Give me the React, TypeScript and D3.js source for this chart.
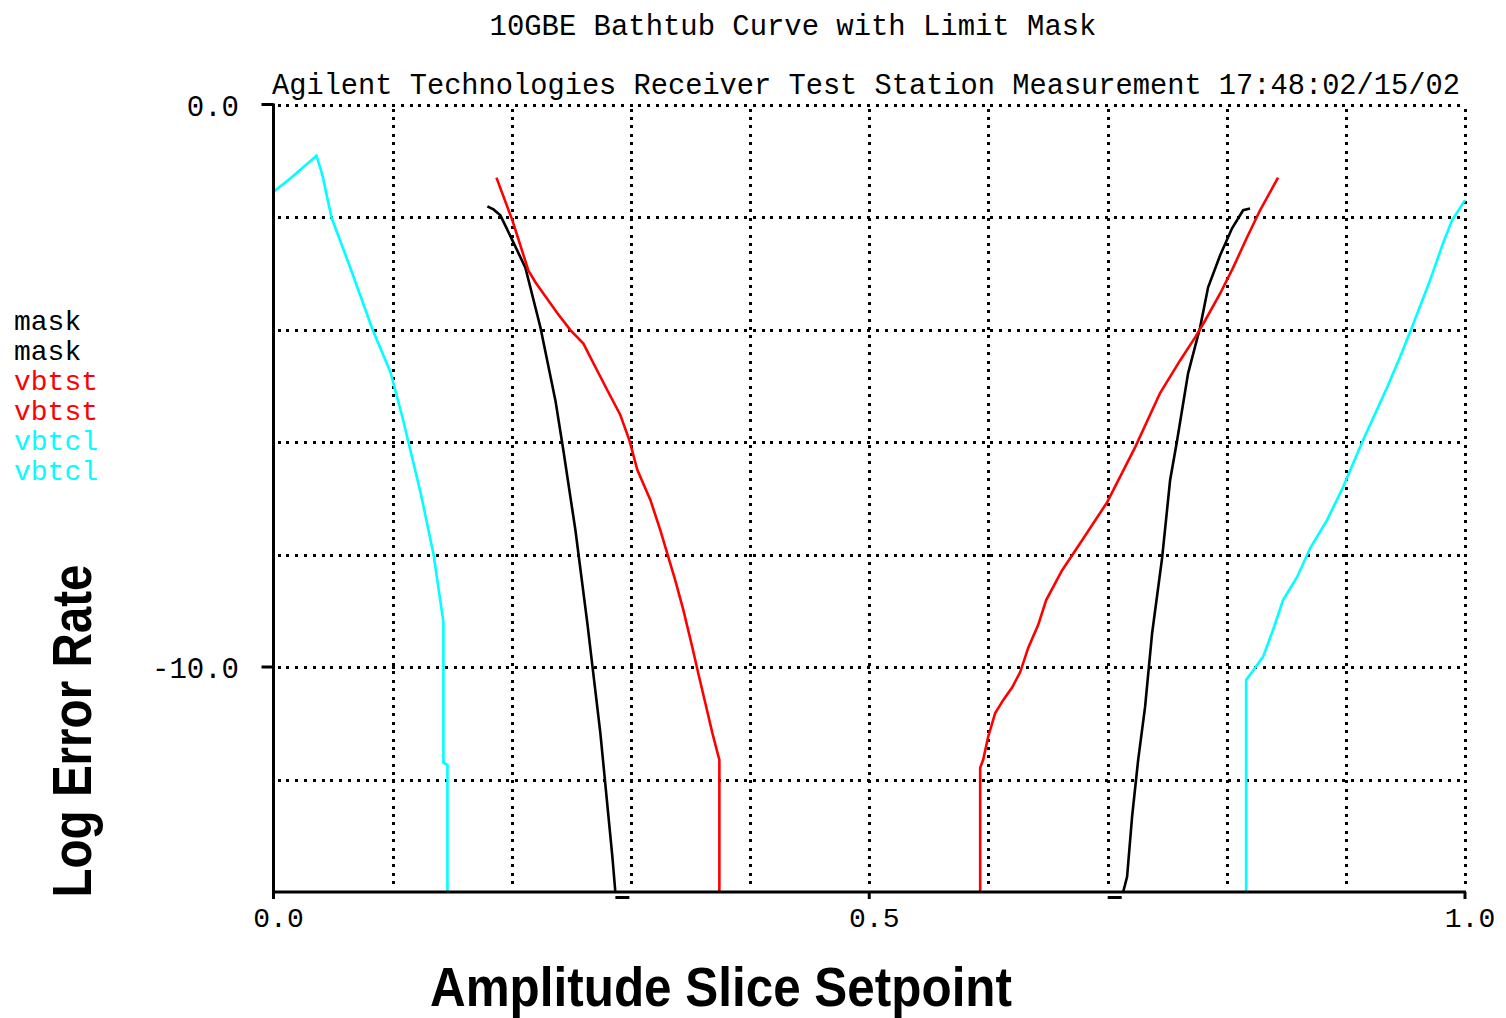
import React from "react";
import * as d3 from "d3";

// ---- data (x = amplitude slice setpoint, y = log error rate) ----
const maskLeft: [number, number][] = [
  [0.1795, -1.81], [0.1846, -1.865], [0.1904, -1.97], [0.2013, -2.45], [0.2114, -2.9],
  [0.224, -3.96], [0.2366, -5.26], [0.2433, -6.15], [0.2534, -7.57], [0.2634, -9.22],
  [0.2743, -11.17], [0.2844, -13.37], [0.2869, -14.0],
];
const maskRight: [number, number][] = [
  [0.7131, -14.0], [0.7164, -13.73], [0.7206, -12.66], [0.7257, -11.65], [0.7315, -10.71],
  [0.7374, -9.4], [0.7458, -8.06], [0.7525, -6.68], [0.7584, -5.97], [0.7676, -4.78],
  [0.7777, -3.96], [0.7844, -3.25], [0.7945, -2.68], [0.8045, -2.2], [0.8138, -1.88],
  [0.8196, -1.85],
];
const vbtstLeft: [number, number][] = [
  [0.1871, -1.3], [0.2005, -2.06], [0.2139, -2.95], [0.2198, -3.16], [0.2265, -3.36],
  [0.2383, -3.71], [0.2492, -4.01], [0.2601, -4.25], [0.2685, -4.6], [0.2802, -5.08],
  [0.2911, -5.52], [0.2987, -5.97], [0.3054, -6.5], [0.3163, -7.03], [0.3247, -7.57],
  [0.3372, -8.46], [0.344, -8.99], [0.3515, -9.65], [0.3565, -10.11], [0.3624, -10.64],
  [0.3683, -11.17], [0.3742, -11.65], [0.3742, -14.0],
];
const vbtstRight: [number, number][] = [
  [0.5931, -14.0], [0.5931, -11.79], [0.5956, -11.65], [0.5998, -11.24], [0.6057, -10.82],
  [0.6124, -10.59], [0.62, -10.36], [0.6267, -10.09], [0.6334, -9.66], [0.6418, -9.25],
  [0.6485, -8.81], [0.6619, -8.28], [0.677, -7.8], [0.6997, -7.07], [0.7232, -6.09],
  [0.7441, -5.13], [0.7609, -4.55], [0.7735, -4.14], [0.7819, -3.84], [0.7945, -3.36],
  [0.8054, -2.9], [0.8171, -2.36], [0.828, -1.88], [0.8431, -1.3],
];
const vbtclLeft: [number, number][] = [
  [0.0, -1.55], [0.0143, -1.31], [0.0361, -0.91], [0.0411, -1.26], [0.0487, -2.01],
  [0.0646, -2.91], [0.0831, -4.0], [0.0982, -4.76], [0.1082, -5.56], [0.1233, -6.89],
  [0.1342, -7.98], [0.1426, -9.2], [0.1426, -11.7], [0.146, -11.74], [0.146, -14.0],
];
const vbtclRight: [number, number][] = [
  [0.8163, -14.0], [0.8163, -10.23], [0.8213, -10.09], [0.8305, -9.82], [0.8389, -9.34],
  [0.8473, -8.81], [0.8591, -8.4], [0.87, -7.89], [0.8842, -7.39], [0.8977, -6.8],
  [0.9144, -5.97], [0.9346, -5.03], [0.9455, -4.49], [0.9555, -3.96], [0.9706, -3.13],
  [0.9815, -2.47], [0.9891, -2.06], [1.0, -1.7],
];

const xTickValues = [0, 0.5, 1.0];
const xTickLabels = ["0.0", "0.5", "1.0"];
const yTickValues = [0, -10];
const yTickLabels = ["0.0", "-10.0"];
const xGridValues = [0.1, 0.2, 0.3, 0.4, 0.5, 0.6, 0.7, 0.8, 0.9, 1.0];
const yGridValues = [0, -2, -4, -6, -8, -10, -12];
const markerX = [0.2928, 0.706];
const legendNames = ["mask", "mask", "vbtst", "vbtst", "vbtcl", "vbtcl"];
const legendColors = ["#000000", "#000000", "#ff0000", "#ff0000", "#00ffff", "#00ffff"];

const titleText = "10GBE Bathtub Curve with Limit Mask";
const subtitleText = "Agilent Technologies Receiver Test Station Measurement 17:48:02/15/02";

const MONO = "'Liberation Mono', 'DejaVu Sans Mono', monospace";
const SANS = "'Liberation Sans', Arial, sans-serif";

export default function App() {
  const W = 1506, H = 1018;
  const left = 273.5, right = 1465, top = 104.5, bottom = 892;
  const x = d3.scaleLinear().domain([0, 1]).range([left, right]);
  const y = d3.scaleLinear().domain([-14, 0]).range([bottom, top]);
  const line = d3.line<[number, number]>().x(d => x(d[0])).y(d => y(d[1]));

  const series = [
    { d: vbtclLeft, c: "#00ffff" },
    { d: vbtclRight, c: "#00ffff" },
    { d: maskLeft, c: "#000000" },
    { d: maskRight, c: "#000000" },
    { d: vbtstLeft, c: "#ff0000" },
    { d: vbtstRight, c: "#ff0000" },
  ];

  return (
    <svg width={W} height={H} style={{ position: "absolute", left: 0, top: 0, background: "#fff" }}>
      <rect x={0} y={0} width={W} height={H} fill="#fff" />
      {/* titles */}
      <text x={793} y={35} textAnchor="middle" fontFamily={MONO} fontSize={28.9}
        fill="#000">{titleText}</text>
      <text x={272} y={94} fontFamily={MONO} fontSize={28.7} fill="#000">{subtitleText}</text>

      {/* grid */}
      {yGridValues.map(v => (
        <line key={"gy" + v} x1={left + 4} x2={right} y1={Math.round(y(v)) + 0.5} y2={Math.round(y(v)) + 0.5}
          stroke="#000" strokeWidth={3} strokeDasharray="3,5.8" shapeRendering="crispEdges" />
      ))}
      {xGridValues.map(v => (
        <line key={"gx" + v} x1={Math.round(x(v)) + 0.5} x2={Math.round(x(v)) + 0.5} y1={top + 4} y2={bottom - 2}
          stroke="#000" strokeWidth={3} strokeDasharray="3,5.4" shapeRendering="crispEdges" />
      ))}

      {/* data */}
      {series.map((s, i) => (
        <path key={"s" + i} d={line(s.d) || ""} fill="none" stroke={s.c} strokeWidth={2.6}
          strokeLinejoin="miter" />
      ))}

      {/* axes */}
      <line x1={left} x2={left} y1={top - 1} y2={bottom + 7} stroke="#000" strokeWidth={3} />
      <line x1={left} x2={right + 1} y1={bottom} y2={bottom} stroke="#000" strokeWidth={3} />
      {yTickValues.map(v => (
        <line key={"ty" + v} x1={left - 12} x2={left} y1={y(v)} y2={y(v)} stroke="#000" strokeWidth={3} />
      ))}
      {xTickValues.map(v => (
        <line key={"tx" + v} x1={x(v)} x2={x(v)} y1={bottom} y2={bottom + 7} stroke="#000" strokeWidth={3} />
      ))}
      {markerX.map(v => (
        <rect key={"m" + v} x={x(v) - 7} y={896} width={14} height={3} fill="#000" />
      ))}

      {/* tick labels */}
      {yTickValues.map((v, i) => (
        <text key={"ly" + v} x={239} y={y(v) + 11} textAnchor="end" fontFamily={MONO} fontSize={29}
          fill="#000">{yTickLabels[i]}</text>
      ))}
      {xTickValues.map((v, i) => (
        <text key={"lx" + v} x={x(v) + 5} y={927} textAnchor="middle" fontFamily={MONO} fontSize={28}
          fill="#000">{xTickLabels[i]}</text>
      ))}

      {/* legend */}
      {legendNames.map((n, i) => (
        <text key={"lg" + i} x={14} y={330 + i * 30} fontFamily={MONO} fontSize={28}
          fill={legendColors[i]}>{n}</text>
      ))}

      {/* axis titles */}
      <text x={721} y={1006} textAnchor="middle" fontFamily={SANS} fontWeight="bold" fontSize={56}
        textLength={582} lengthAdjust="spacingAndGlyphs" fill="#000">Amplitude Slice Setpoint</text>
      <text transform="translate(91,731) rotate(-90)" textAnchor="middle" fontFamily={SANS} fontWeight="bold"
        fontSize={56} textLength={333} lengthAdjust="spacingAndGlyphs" fill="#000">Log Error Rate</text>
    </svg>
  );
}
